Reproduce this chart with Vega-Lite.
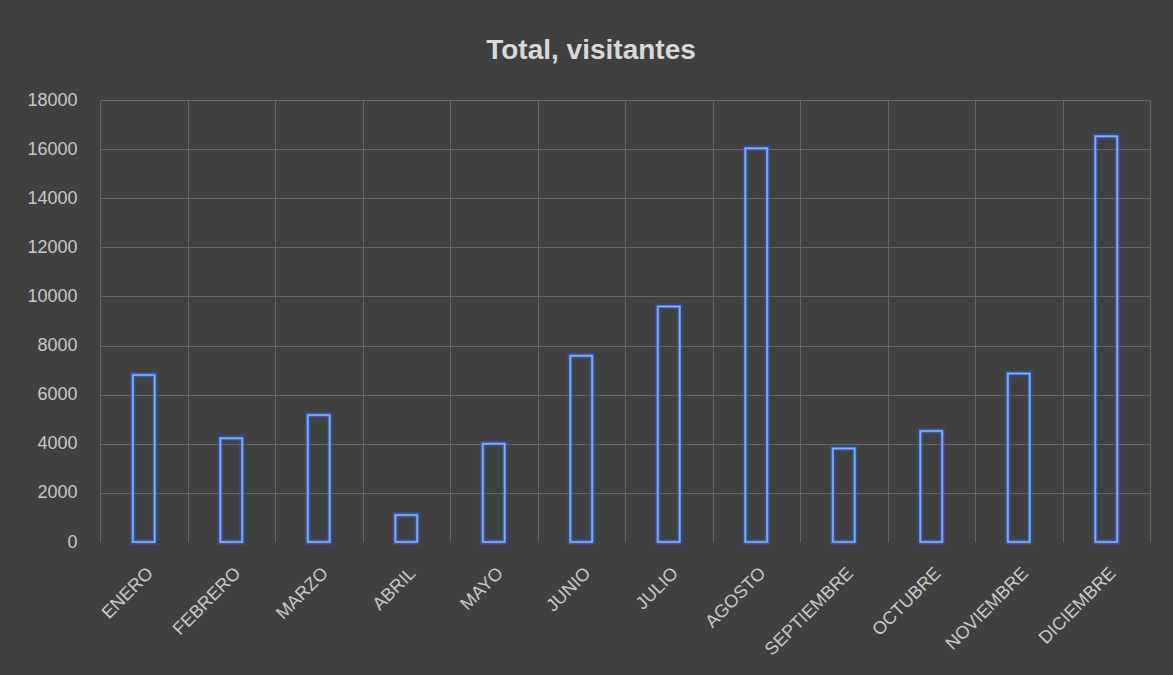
{
  "$schema": "https://vega.github.io/schema/vega-lite/v6.json",
  "width": 1050,
  "height": 442,
  "autosize": {"type": "none"},
  "padding": {"top": 100, "left": 100, "right": 23, "bottom": 133},
  "background": "#404040",
  "title": {
    "text": "Total, visitantes",
    "font": "Liberation Sans",
    "fontSize": 28,
    "fontWeight": "bold",
    "color": "#d9d9d9",
    "anchor": "middle",
    "dx": -34,
    "offset": 26
  },
  "config": {
    "view": {"stroke": null},
    "axis": {
      "labelFont": "Liberation Sans",
      "labelColor": "#c8c8c8",
      "labelFontSize": 18,
      "gridColor": "#646464",
      "gridWidth": 1,
      "domain": false,
      "ticks": false,
      "tickSize": 0,
      "title": null
    }
  },
  "data": {
    "values": [
      {"mes": "ENERO", "visitantes": 6800},
      {"mes": "FEBRERO", "visitantes": 4230},
      {"mes": "MARZO", "visitantes": 5170},
      {"mes": "ABRIL", "visitantes": 1100},
      {"mes": "MAYO", "visitantes": 4000},
      {"mes": "JUNIO", "visitantes": 7580},
      {"mes": "JULIO", "visitantes": 9590},
      {"mes": "AGOSTO", "visitantes": 16030},
      {"mes": "SEPTIEMBRE", "visitantes": 3810},
      {"mes": "OCTUBRE", "visitantes": 4520},
      {"mes": "NOVIEMBRE", "visitantes": 6860},
      {"mes": "DICIEMBRE", "visitantes": 16520}
    ]
  },
  "encoding": {
    "x": {
      "field": "mes",
      "type": "nominal",
      "sort": null,
      "scale": {"paddingInner": 0, "paddingOuter": 0},
      "axis": {
        "labelAngle": -45,
        "labelPadding": 22,
        "grid": true,
        "tickBand": "extent"
      }
    },
    "y": {
      "field": "visitantes",
      "type": "quantitative",
      "scale": {"domain": [0, 18000], "nice": false},
      "axis": {
        "values": [0, 2000, 4000, 6000, 8000, 10000, 12000, 14000, 16000, 18000],
        "format": "d",
        "labelPadding": 23,
        "grid": true,
        "gridOpacity": {"condition": {"test": "datum.value === 0", "value": 0}, "value": 1}
      }
    }
  },
  "layer": [
    {
      "mark": {"type": "bar", "width": {"band": 0.25}, "fill": null, "fillOpacity": 0, "stroke": "#2f62d8", "strokeWidth": 6, "strokeOpacity": 0.35}
    },
    {
      "mark": {"type": "bar", "width": {"band": 0.25}, "fill": null, "fillOpacity": 0, "stroke": "#5a8ef0", "strokeWidth": 2.5}
    },
    {
      "mark": {"type": "bar", "width": {"band": 0.25}, "fill": null, "fillOpacity": 0, "stroke": "#9dbaf2", "strokeWidth": 0.8}
    }
  ]
}
